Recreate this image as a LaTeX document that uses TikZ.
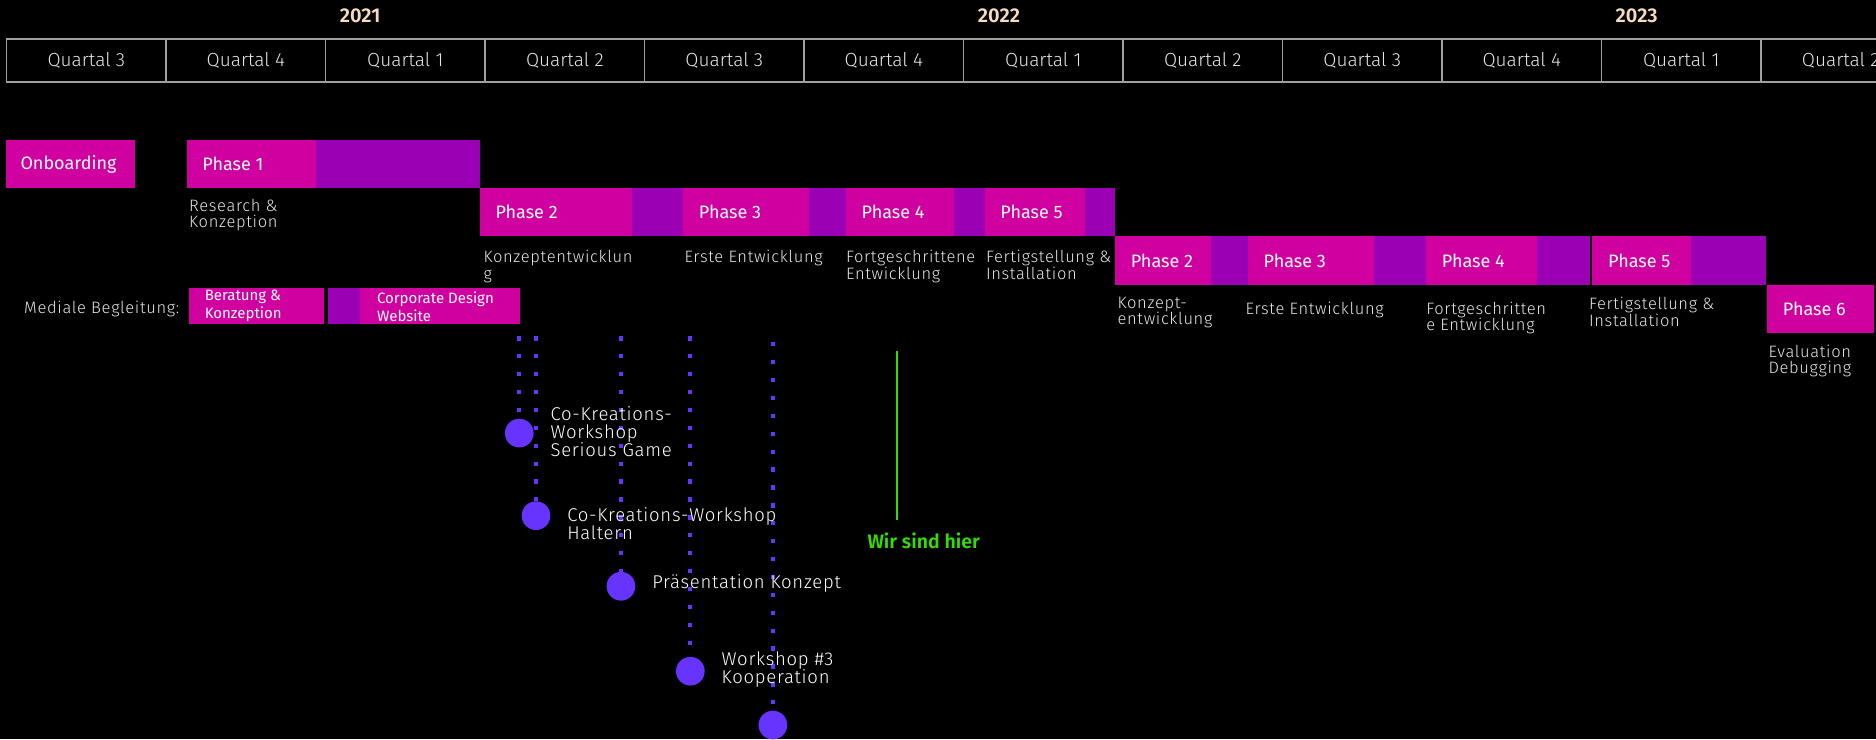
\documentclass[tikz,border=0pt]{standalone}
\usepackage{fontspec}
\setmainfont{Fira Sans}
\newfontfamily\thinfont{Fira Sans Light}
\newfontfamily\labfont{Fira Sans Light}[LetterSpace=4]
\newfontfamily\boldfont{Fira Sans SemiBold}
\definecolor{magbar}{HTML}{D000A0}
\definecolor{purbar}{HTML}{9C00B4}
\definecolor{dotblue}{HTML}{6633FF}
\definecolor{nowgreen}{HTML}{33DD00}
\definecolor{yearcol}{HTML}{F5DCC0}
\definecolor{gridgray}{HTML}{A0A0A0}
\definecolor{labgray}{HTML}{E6E6E6}
\begin{document}
\begin{tikzpicture}[
x=1.1964pt, y=-1.1964pt,
qcell/.style={draw=gridgray, line width=1.3pt, minimum width=159.5pt,
    minimum height=43pt, anchor=north west, inner sep=0pt, text=labgray,
    font=\thinfont\fontsize{19}{20}\selectfont},
year/.style={text=yearcol, font=\boldfont\fontsize{20}{22}\selectfont},
phase/.style={anchor=west, inner sep=0pt, text=white,
    font=\fontsize{18}{20}\selectfont},
sub/.style={anchor=north west, inner sep=0pt, align=left, text=labgray,
    font=\labfont\fontsize{16.5}{16.7}\selectfont},
media/.style={anchor=west, inner sep=0pt, align=left, text=white,
    font=\fontsize{15}{18}\selectfont},
event/.style={circle, fill=dotblue, minimum size=28.7pt, inner sep=0pt},
eventlabel/.style={anchor=west, inner sep=0pt, align=left, text=white,
    font=\labfont\fontsize{18.5}{18}\selectfont},
dotline/.style={dotblue, line width=4.3pt, dash pattern=on 4.3pt off 13.6pt},
nowline/.style={nowgreen, line width=2pt},
nowlabel/.style={text=nowgreen, font=\boldfont\fontsize{19.5}{21}\selectfont}
]
\useasboundingbox (0,0) rectangle (1568,618);
\fill[black] (0,0) rectangle (1568,618);
\clip (0,0) rectangle (1568,618);

\node[year] (y21) at (301,13) {2021};
\node[year] (y22) at (835,13) {2022};
\node[year] (y23) at (1368,13) {2023};
\foreach \q [count=\i from 0] in {3,4,1,2,3,4,1,2,3,4,1,2}
    \node[qcell] (q\i) at ({5+133.3*\i},32) {Quartal \q};

\fill[magbar] (5,117) rectangle (113,157.3);
\node[phase] (onb) at (17,137) {Onboarding};
\foreach \xa/\xb/\xc/\ya/\txt/\nm in {
    156/264/401/117/Phase 1/pa1,
    401/528/571/157.3/Phase 2/pa2, 571/676/707/157.3/Phase 3/pa3,
    707/797/823/157.3/Phase 4/pa4, 823/907/932/157.3/Phase 5/pa5,
    932/1012/1043/197.6/Phase 2/pb2, 1043/1148/1192/197.6/Phase 3/pb3,
    1192/1285/1329/197.6/Phase 4/pb4, 1331/1413/1476/197.6/Phase 5/pb5}
{
    \fill[magbar] (\xa,\ya) rectangle (\xb,\ya+40.3);
    \fill[purbar] (\xb,\ya) rectangle (\xc,\ya+40.3);
    \node[phase] (\nm) at (\xa+13,\ya+20.2) {\txt};
}
\fill[magbar] (1477,237.9) rectangle (1566,278.2);
\node[phase] (pb6) at (1490,258) {Phase 6};

\node[sub] (s1) at (158,166) {Research \&\\Konzeption};
\node[sub] (s2) at (404,209) {Konzeptentwicklun\\g};
\node[sub] (s3) at (572,209) {Erste Entwicklung};
\node[sub] (s4) at (707,209) {Fortgeschrittene\\Entwicklung};
\node[sub] (s5) at (824,209) {Fertigstellung \&\\Installation};
\node[sub] (t2) at (934,248) {Konzept-\\entwicklung};
\node[sub] (t3) at (1041,252) {Erste Entwicklung};
\node[sub] (t4) at (1192,252) {Fortgeschritten\\e Entwicklung};
\node[sub] (t5) at (1328,248) {Fertigstellung \&\\Installation};
\node[sub] (t6) at (1478,288) {Evaluation\\Debugging};

\node[sub, anchor=east] (med) at (150,258) {Mediale Begleitung:};
\fill[magbar] (158,241) rectangle (271,271);
\fill[purbar] (274,241) rectangle (301,271);
\fill[magbar] (301,241) rectangle (435,271);
\node[media] (mb1) at (171,256) {Beratung \&\\Konzeption};
\node[media] (mb2) at (315,256) {Corporate Design\\Website};

\foreach \n/\x/\ya/\yb in {1/434/281/362, 2/448/281/431, 3/519/281/490,
    4/577/281/561, 5/646/286/606}
{
    \coordinate (top\n) at (\x,\ya);
    \node[event] (ev\n) at (\x,\yb) {};
    \draw[dotline] (top\n) -- (ev\n);
}
\node[eventlabel] (el1) at (460,361) {Co-Kreations-\\Workshop\\Serious Game};
\node[eventlabel] (el2) at (474,437.5) {Co-Kreations-Workshop\\Haltern};
\node[eventlabel] (el3) at (545,488) {Präsentation Konzept};
\node[eventlabel] (el4) at (603,559.5) {Workshop \#3\\Kooperation};

\coordinate (ntop) at (750,293);
\coordinate (nbot) at (750,435);
\draw[nowline] (ntop) -- (nbot);
\node[nowlabel] (here) at (772,452) {Wir sind hier};
\end{tikzpicture}
\end{document}
